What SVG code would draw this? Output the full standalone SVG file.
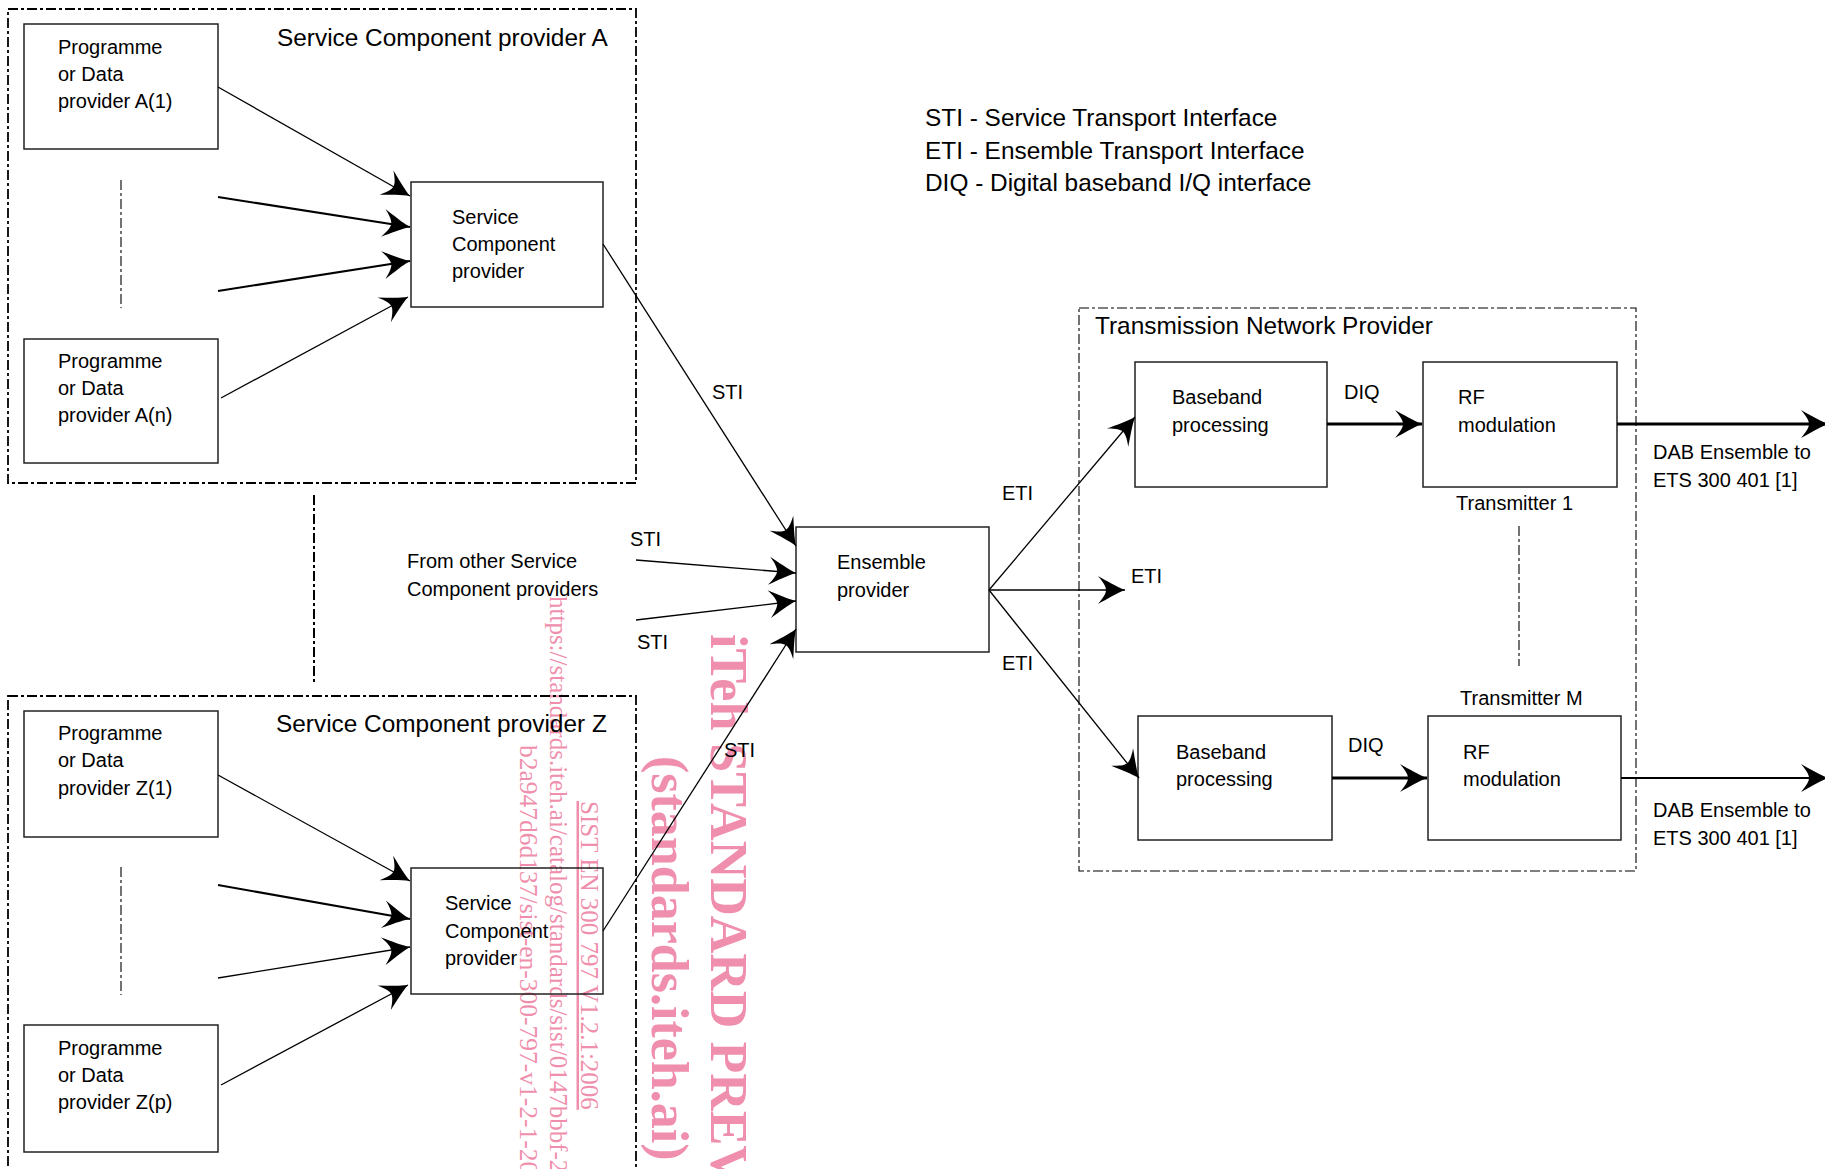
<svg xmlns="http://www.w3.org/2000/svg" width="1825" height="1169" viewBox="0 0 1825 1169">
<style>
text{font-family:"Liberation Sans",Arial,sans-serif;fill:#000}
.t20{font-size:20px}
.t24{font-size:24.4px}
.box{fill:none;stroke:#222;stroke-width:1.5}
.grp{fill:none;stroke:#000;stroke-width:1.8;stroke-dasharray:10,3,3,3}
.grpt{fill:none;stroke:#000;stroke-width:1.1;stroke-dasharray:10,3,3,3}
.sep{fill:none;stroke:#000;stroke-width:1.1;stroke-dasharray:10,3,3,3}
.sepb{fill:none;stroke:#000;stroke-width:2;stroke-dasharray:10,3,3,3}
.c{fill:none;stroke:#000;stroke-width:1.3;marker-end:url(#ah)}
.c2{stroke-width:2}
.c3{stroke-width:3}
.wm{font-family:"Liberation Serif","Times New Roman",serif;fill:#ef8fad}
</style>
<defs>
<marker id="ah" viewBox="-30 -16 32 32" refX="0" refY="0" markerWidth="32" markerHeight="32" markerUnits="userSpaceOnUse" orient="auto">
<path d="M0,0 C-8,-3 -18,-9 -27,-14 C-21,-7 -19,-3 -19,0 C-19,3 -21,7 -27,14 C-18,9 -8,3 0,0 Z" fill="#000"/>
</marker>
</defs>

<g id="watermark">
<text class="wm" font-size="52" font-weight="bold" transform="translate(711,634) rotate(90)">iTeh STANDARD PREVIEW</text>
<text class="wm" font-size="52" font-weight="bold" transform="translate(652,756) rotate(90)">(standards.iteh.ai)</text>
<text class="wm" font-size="25" text-decoration="underline" transform="translate(581,801) rotate(90)">SIST EN 300 797 V1.2.1:2006</text>
<text class="wm" font-size="25" transform="translate(550,596) rotate(90)">https://standards.iteh.ai/catalog/standards/sist/0147bbbf-200</text>
<text class="wm" font-size="25.5" transform="translate(520,745) rotate(90)">b2a947d6d137/sist-en-300-797-v1-2-1-200</text>
</g>

<g id="legend" class="t24">
<text x="925" y="126">STI - Service Transport Interface</text>
<text x="925" y="159">ETI - Ensemble Transport Interface</text>
<text x="925" y="191">DIQ - Digital baseband I/Q interface</text>
</g>

<g id="groupA">
<rect class="grp" x="8" y="9" width="628" height="474"/>
<text class="t24" x="277" y="46">Service Component provider A</text>
</g>
<g id="providerA1">
<rect class="box" x="24" y="24" width="194" height="125"/>
<text class="t20" x="58" y="54">Programme</text>
<text class="t20" x="58" y="81">or Data</text>
<text class="t20" x="58" y="108">provider A(1)</text>
</g>
<g id="providerAn">
<rect class="box" x="24" y="339" width="194" height="124"/>
<text class="t20" x="58" y="368">Programme</text>
<text class="t20" x="58" y="395">or Data</text>
<text class="t20" x="58" y="422">provider A(n)</text>
</g>
<g id="scpA">
<rect class="box" x="411" y="182" width="192" height="125"/>
<text class="t20" x="452" y="224">Service</text>
<text class="t20" x="452" y="251">Component</text>
<text class="t20" x="452" y="278">provider</text>
</g>
<g id="sepA"><line class="sep" x1="121" y1="180" x2="121" y2="308"/></g>
<g id="sepAZ"><line class="sepb" x1="314" y1="495" x2="314" y2="684"/></g>

<g id="groupZ">
<rect class="grp" x="8" y="696" width="628" height="500"/>
<text class="t24" x="276" y="732">Service Component provider Z</text>
</g>
<g id="providerZ1">
<rect class="box" x="24" y="711" width="194" height="126"/>
<text class="t20" x="58" y="740">Programme</text>
<text class="t20" x="58" y="767">or Data</text>
<text class="t20" x="58" y="795">provider Z(1)</text>
</g>
<g id="providerZp">
<rect class="box" x="24" y="1025" width="194" height="127"/>
<text class="t20" x="58" y="1055">Programme</text>
<text class="t20" x="58" y="1082">or Data</text>
<text class="t20" x="58" y="1109">provider Z(p)</text>
</g>
<g id="scpZ">
<rect class="box" x="411" y="868" width="192" height="126"/>
<text class="t20" x="445" y="910">Service</text>
<text class="t20" x="445" y="938">Component</text>
<text class="t20" x="445" y="965">provider</text>
</g>
<g id="sepZ"><line class="sep" x1="121" y1="867" x2="121" y2="995"/></g>

<g id="others">
<text class="t20" x="407" y="568">From other Service</text>
<text class="t20" x="407" y="596">Component providers</text>
</g>

<g id="ensemble">
<rect class="box" x="796" y="527" width="193" height="125"/>
<text class="t20" x="837" y="569">Ensemble</text>
<text class="t20" x="837" y="597">provider</text>
</g>

<g id="tnp">
<rect class="grpt" x="1079" y="308" width="557" height="563"/>
<text class="t24" x="1095" y="334">Transmission Network Provider</text>
</g>
<g id="bb1">
<rect class="box" x="1135" y="362" width="192" height="125"/>
<text class="t20" x="1172" y="404">Baseband</text>
<text class="t20" x="1172" y="432">processing</text>
</g>
<g id="rf1">
<rect class="box" x="1423" y="362" width="194" height="125"/>
<text class="t20" x="1458" y="404">RF</text>
<text class="t20" x="1458" y="432">modulation</text>
<text class="t20" x="1456" y="510">Transmitter 1</text>
</g>
<g id="bb2">
<rect class="box" x="1138" y="716" width="194" height="124"/>
<text class="t20" x="1176" y="759">Baseband</text>
<text class="t20" x="1176" y="786">processing</text>
</g>
<g id="rf2">
<rect class="box" x="1428" y="716" width="193" height="124"/>
<text class="t20" x="1463" y="759">RF</text>
<text class="t20" x="1463" y="786">modulation</text>
<text class="t20" x="1460" y="705">Transmitter M</text>
</g>
<g id="sepT"><line class="sep" x1="1519" y1="526" x2="1519" y2="666"/></g>
<g id="out1"><text class="t20" x="1653" y="459">DAB Ensemble to</text><text class="t20" x="1653" y="487">ETS 300 401 [1]</text></g>
<g id="out2"><text class="t20" x="1653" y="817">DAB Ensemble to</text><text class="t20" x="1653" y="845">ETS 300 401 [1]</text></g>

<g id="connectors">
<line class="c" x1="218" y1="87" x2="410" y2="196"/>
<line class="c c2" x1="218" y1="197" x2="410" y2="227"/>
<line class="c c2" x1="218" y1="291" x2="410" y2="261"/>
<line class="c" x1="221" y1="398" x2="408" y2="297"/>
<line class="c" x1="218" y1="775" x2="410" y2="881"/>
<line class="c c2" x1="218" y1="885" x2="410" y2="919"/>
<line class="c" x1="218" y1="978" x2="410" y2="947"/>
<line class="c" x1="221" y1="1085" x2="408" y2="985"/>
<line class="c" x1="603" y1="244" x2="796" y2="546"/>
<line class="c" x1="636" y1="560" x2="796" y2="573"/>
<line class="c" x1="636" y1="620" x2="796" y2="601"/>
<line class="c" x1="603" y1="931" x2="796" y2="629"/>
<line class="c" x1="989" y1="590" x2="1135" y2="417"/>
<line class="c" x1="989" y1="590" x2="1125" y2="590"/>
<line class="c" x1="989" y1="590" x2="1139" y2="778"/>
<line class="c c3" x1="1327" y1="424" x2="1422" y2="424"/>
<line class="c c3" x1="1332" y1="778" x2="1427" y2="778"/>
<line class="c c3" x1="1617" y1="424" x2="1828" y2="424"/>
<line class="c c2" x1="1621" y1="778" x2="1828" y2="778"/>
<text class="t20" x="712" y="399">STI</text>
<text class="t20" x="630" y="546">STI</text>
<text class="t20" x="637" y="649">STI</text>
<text class="t20" x="724" y="757">STI</text>
<text class="t20" x="1002" y="500">ETI</text>
<text class="t20" x="1131" y="583">ETI</text>
<text class="t20" x="1002" y="670">ETI</text>
<text class="t20" x="1344" y="399">DIQ</text>
<text class="t20" x="1348" y="752">DIQ</text>
</g>
</svg>
